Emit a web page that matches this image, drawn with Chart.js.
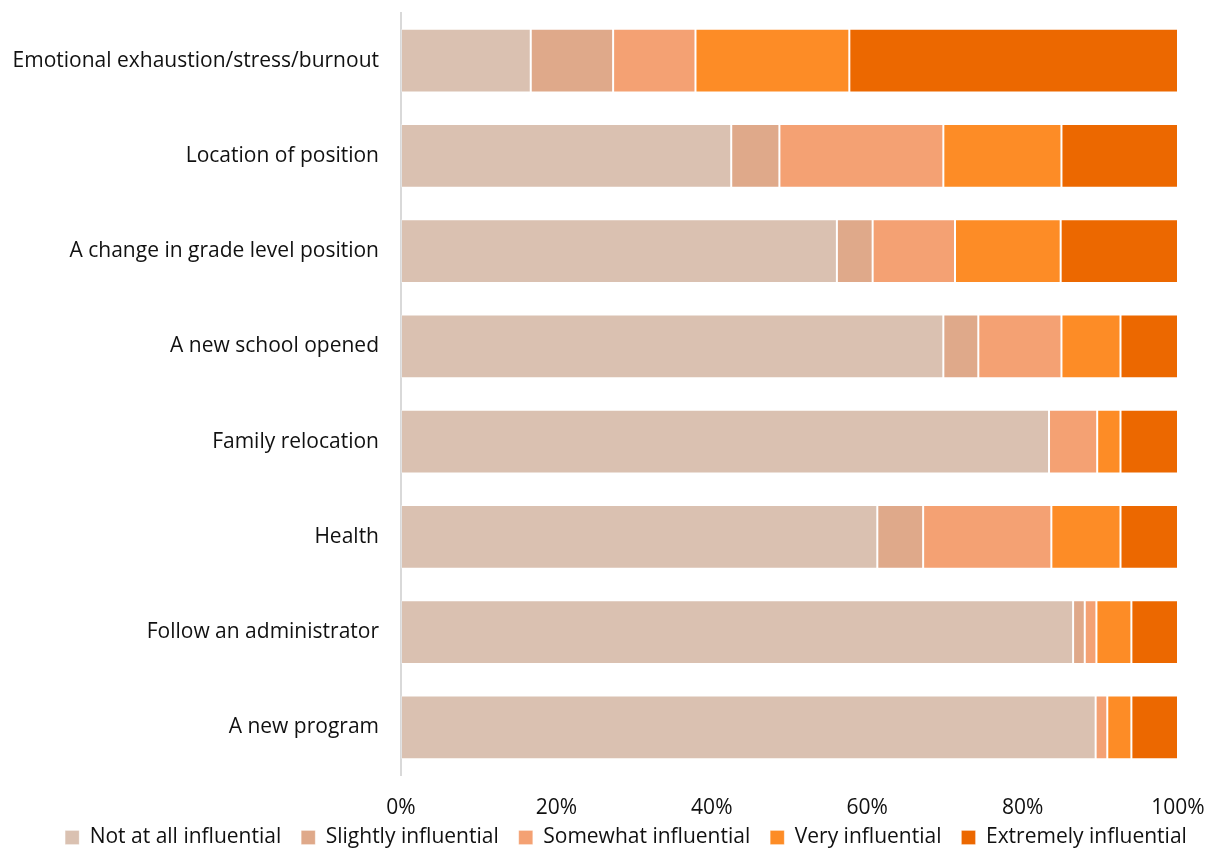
<!DOCTYPE html>
<html>
<head>
<meta charset="utf-8">
<script src="https://cdn.jsdelivr.net/npm/chart.js@4"></script>
<style>
    html, body { margin: 0; padding: 0; background: #ffffff; }
    #wrap { width: 1214px; height: 848px; position: relative; }
</style>
</head>
<body>
<div id="wrap"><canvas id="reasonChart"></canvas></div>
<script>
// Survey: how influential each factor was
const categories = [
    'Emotional exhaustion/stress/burnout',
    'Location of position',
    'A change in grade level position',
    'A new school opened',
    'Family relocation',
    'Health',
    'Follow an administrator',
    'A new program'
];
const seriesNames = ['Not at all influential', 'Slightly influential', 'Somewhat influential', 'Very influential', 'Extremely influential'];
const notAtAll  = [16.7, 42.5, 56.1, 69.8, 83.4, 61.3, 86.5, 89.4];
const slightly  = [10.6, 6.2, 4.6, 4.5, 0, 5.9, 1.5, 0];
const somewhat  = [10.6, 21.1, 10.6, 10.7, 6.2, 16.5, 1.5, 1.5];
const very      = [19.8, 15.2, 13.6, 7.6, 3.0, 8.9, 4.5, 3.1];
const extremely = [42.3, 15.0, 15.1, 7.4, 7.4, 7.4, 6.0, 6.0];
const xTicks = [0, 20, 40, 60, 80, 100];

const colors = ['#dac1b1', '#dfa98a', '#f4a173', '#fd8c26', '#ec6800'];
const FONT = "'Open Sans', sans-serif";
const TEXT = '#111111';

const seriesData = [notAtAll, slightly, somewhat, very, extremely];

// Nudge legend to the right and let x tick labels draw below their box
const layoutTweak = {
    id: 'layoutTweak',
    afterLayout(chart) {
        const lg = chart.legend;
        if (lg) {
            lg.left = 38;
            lg.right = chart.width;
        }
        const x = chart.scales.x;
        if (x) x.bottom = chart.height;
    }
};

const ctx = document.getElementById('reasonChart');
new Chart(ctx, {
    type: 'bar',
    data: {
        labels: categories,
        datasets: seriesData.map((d, i) => ({
            label: seriesNames[i],
            data: d,
            backgroundColor: colors[i],
            borderColor: 'rgba(255,255,255,0.25)',
            borderWidth: 1,
            borderSkipped: false,
            barPercentage: 1,
            categoryPercentage: 0.67
        }))
    },
    plugins: [layoutTweak],
    options: {
        indexAxis: 'y',
        responsive: true,
        maintainAspectRatio: false,
        animation: false,
        layout: {
            padding: { top: 13, right: 0, left: 0, bottom: 0 }
        },
        plugins: {
            legend: {
                position: 'bottom',
                maxHeight: 41,
                labels: {
                    color: TEXT,
                    boxWidth: 14,
                    boxHeight: 14,
                    padding: 20,
                    font: { family: FONT, size: 21 }
                }
            },
            tooltip: { enabled: false }
        },
        scales: {
            x: {
                stacked: true,
                min: 0,
                max: 100,
                afterBuildTicks: (scale) => {
                    scale.ticks = xTicks.map(v => ({ value: v }));
                },
                afterFit: (scale) => {
                    scale.height = 32;
                    scale.paddingLeft = 0;
                    scale.paddingRight = 36;
                },
                grid: { display: false },
                border: { display: false },
                ticks: {
                    color: TEXT,
                    padding: 12,
                    maxRotation: 0,
                    font: { family: FONT, size: 21 },
                    callback: (value) => value + '%'
                }
            },
            y: {
                stacked: true,
                afterFit: (scale) => {
                    scale.width = 401;
                    scale.paddingTop = 0;
                    scale.paddingBottom = 0;
                },
                grid: { display: false },
                border: { display: true, color: '#d9d9d9', width: 2 },
                ticks: {
                    color: TEXT,
                    padding: 14,
                    font: { family: FONT, size: 21 }
                }
            }
        }
    }
});
</script>
</body>
</html>
